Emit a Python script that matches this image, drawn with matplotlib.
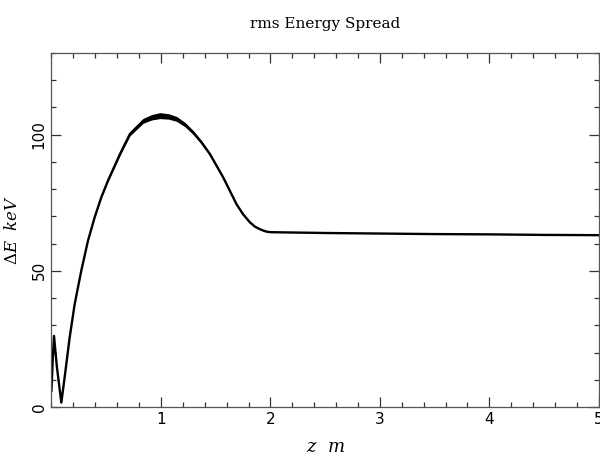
import numpy as np
import matplotlib.pyplot as plt
from matplotlib.ticker import MultipleLocator

plt.rcParams["mathtext.fontset"] = "dejavuserif"

# rms energy spread along z
z_m = [0.0, 0.012, 0.023, 0.05, 0.09, 0.12, 0.166, 0.212, 0.272, 0.333, 0.394,
       0.455, 0.516, 0.626, 0.717, 0.838, 0.915, 0.99, 1.07, 1.143, 1.22,
       1.295, 1.37, 1.447, 1.569, 1.69, 1.75, 1.813, 1.86, 1.904, 1.934,
       1.965, 2.0, 2.5, 3.0, 3.5, 4.0, 4.5, 5.0]
dE_keV = [6.0, 18.0, 26.1, 14.5, 1.6, 10.8, 25.5, 37.8, 50.0, 61.0, 69.6,
          77.0, 83.1, 92.9, 100.3, 105.1, 106.4, 107.0, 106.7, 105.8, 103.7,
          100.8, 97.2, 92.9, 84.3, 74.5, 70.8, 67.8, 66.2, 65.3, 64.8,
          64.4, 64.2, 63.9, 63.7, 63.5, 63.4, 63.2, 63.1]
# half-width of the fast oscillation band (thick part of the trace)
band_keV = [0.0, 0.0, 0.0, 0.0, 0.0, 0.0, 0.0, 0.0, 0.0, 0.0, 0.1,
            0.2, 0.3, 0.5, 0.7, 0.9, 1.0, 1.1, 1.0, 0.9, 0.8,
            0.7, 0.6, 0.5, 0.35, 0.2, 0.15, 0.1, 0.0, 0.0, 0.0,
            0.0, 0.0, 0.0, 0.0, 0.0, 0.0, 0.0, 0.0]

fig = plt.figure(figsize=(6.0, 4.55), dpi=100)
ax = fig.add_axes([0.0858, 0.1055, 0.9122, 0.778])

lo = np.array(dE_keV) - np.array(band_keV)
hi = np.array(dE_keV) + np.array(band_keV)
ax.fill_between(z_m, lo, hi, color="black", linewidth=0)
ax.plot(z_m, dE_keV, color="black", linewidth=1.7)

ax.set_xlim(0, 5)
ax.set_ylim(0, 130)

ax.xaxis.set_major_locator(MultipleLocator(1))
ax.xaxis.set_minor_locator(MultipleLocator(0.2))
ax.yaxis.set_major_locator(MultipleLocator(50))
ax.yaxis.set_minor_locator(MultipleLocator(10))

ax.tick_params(which="both", direction="in", top=True, right=True, width=0.9,
               color="#333333")
ax.tick_params(which="major", length=7, labelsize=11)
ax.tick_params(which="minor", length=3.5)
for spine in ax.spines.values():
    spine.set_linewidth(0.9)
    spine.set_color("#555555")

ax.set_xticks([1, 2, 3, 4, 5])
ax.set_xticklabels(["1", "2", "3", "4", "5"], fontfamily="DejaVu Sans")
ax.set_yticks([0, 50, 100])
ax.set_yticklabels(["0", "50", "100"], rotation=90, va="center",
                   fontfamily="DejaVu Sans")

ax.set_title("rms Energy Spread", fontsize=11, fontfamily="DejaVu Serif", pad=18)
ax.set_xlabel(r"$z\ \ m$", fontsize=13, labelpad=8)
ax.set_ylabel(r"$\Delta E\ \ keV$", fontsize=12, labelpad=8)

fig.savefig("out.png", dpi=100, facecolor="white")
